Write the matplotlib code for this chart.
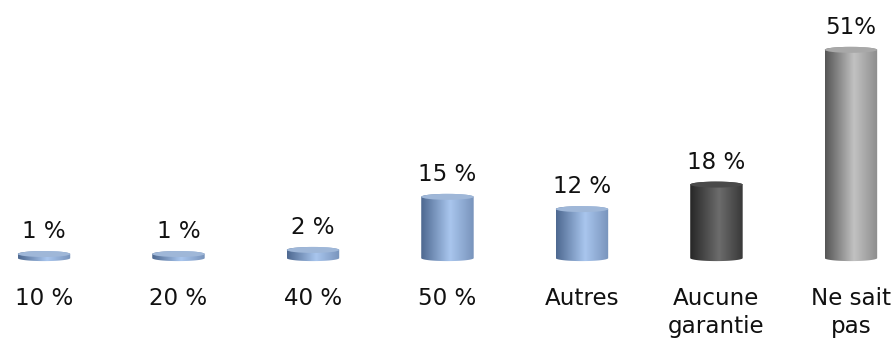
import matplotlib
matplotlib.use("Agg")
import matplotlib.pyplot as plt
import numpy as np
from matplotlib.colors import LinearSegmentedColormap
from matplotlib.patches import Ellipse, PathPatch
from matplotlib.path import Path

categories = ["10 %", "20 %", "40 %", "50 %", "Autres", "Aucune\ngarantie", "Ne sait\npas"]
values = [1, 1, 2, 15, 12, 18, 51]
value_labels = ["1 %", "1 %", "2 %", "15 %", "12 %", "18 %", "51%"]

BLUE = (["#4d6890", "#a9c6ee", "#7893bb"], "#9fb7d8")
DARK = (["#262626", "#6c6c6c", "#383838"], "#4a4a4a")
GREY = (["#555555", "#c2c2c2", "#8c8c8c"], "#a8a8a8")
styles = [BLUE, BLUE, BLUE, BLUE, BLUE, DARK, GREY]

DPI = 72
fig = plt.figure(figsize=(896 / DPI, 341 / DPI), dpi=DPI)
ax = fig.add_axes([0, 0, 1, 1])
ax.set_xlim(-0.327, 6.335)
ax.set_ylim(-20.3, 63.2)
ax.axis("off")

x = np.arange(len(categories))
width = 0.39
bars = ax.bar(x, values, width=width, color="none", edgecolor="none")

# ellipse height: about 6 px in data units
px_per_y = 341 / (63.2 + 20.3)
eh = 6 / px_per_y

for bar, (stops, top_col), lab, cat in zip(bars, styles, value_labels, categories):
    x0, w, h = bar.get_x(), bar.get_width(), bar.get_height()
    cx = x0 + w / 2
    cmap = LinearSegmentedColormap.from_list("cyl", [(0, stops[0]), (0.55, stops[1]), (1, stops[2])])

    # body outline: lower arc of bottom ellipse, then upper arc of top ellipse
    t = np.linspace(np.pi, 2 * np.pi, 40)
    bot = np.c_[cx + w / 2 * np.cos(t), 0 + eh / 2 * np.sin(t)]
    t2 = np.linspace(0, np.pi, 40)
    top = np.c_[cx + w / 2 * np.cos(t2), h + eh / 2 * np.sin(t2)]
    verts = np.vstack([bot, top, bot[:1]])
    clip = PathPatch(Path(verts), facecolor="none", edgecolor="none")
    ax.add_patch(clip)
    grad = np.linspace(0, 1, 256).reshape(1, -1)
    im = ax.imshow(grad, cmap=cmap, aspect="auto", interpolation="bilinear",
                   extent=(x0, x0 + w, -eh, h + eh), zorder=2)
    im.set_clip_path(clip)

    ax.add_patch(Ellipse((cx, h), w, eh, facecolor=top_col, edgecolor="none", zorder=3))

    ax.annotate(lab, (cx, h), xytext=(0, 11), textcoords="offset points",
                ha="center", va="bottom", fontsize=23, color="#111111")
    ax.annotate(cat, (cx, 0), xytext=(0, -29), textcoords="offset points",
                ha="center", va="top", fontsize=23, color="#111111", linespacing=1.3)

fig.savefig("out.png", dpi=DPI, facecolor="white")
